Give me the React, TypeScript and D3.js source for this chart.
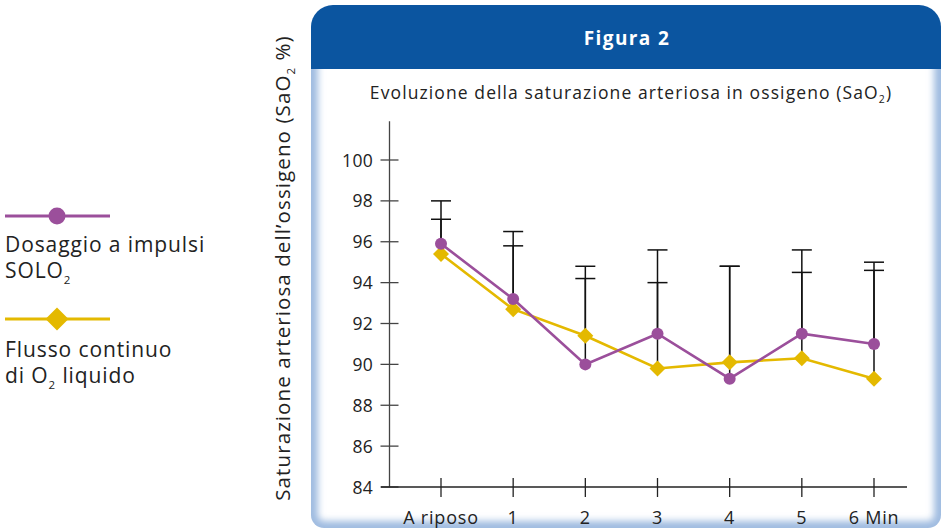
import React from "react";
import * as d3 from "d3";

// Time points of the test
const categories = ["A riposo", "1", "2", "3", "4", "5", "6 Min"];
// Mean SaO2 (%) per series
const soloValues = [95.9, 93.2, 90.0, 91.5, 89.3, 91.5, 91.0];
const liquidValues = [95.4, 92.7, 91.4, 89.8, 90.1, 90.3, 89.3];
// Upper end of the error bar (mean + SD) per series
const soloUpper = [98.0, 96.5, 94.8, 95.6, 94.8, 95.6, 95.0];
const liquidUpper = [97.1, 95.8, 94.2, 94.0, 94.8, 94.5, 94.6];
// Y axis ticks
const yTicks = [84, 86, 88, 90, 92, 94, 96, 98, 100];

const FONT = "'Open Sans', 'DejaVu Sans', sans-serif";
const PURPLE = "#9b4f9b";
const YELLOW = "#e4b900";
const BLUE = "#0b55a0";
const INK = "#222";

function diamond(cx: number, cy: number, r: number) {
  return `M${cx},${cy - r}L${cx + r},${cy}L${cx},${cy + r}L${cx - r},${cy}Z`;
}

export default function App() {
  const W = 944;
  const H = 531;

  // panel geometry
  const pl = 311, pr = 941, pt = 5, pb = 528, hb = 69, rt = 22, rb = 13;
  const headerPath = `M${pl},${hb}L${pl},${pt + rt}A${rt},${rt} 0 0 1 ${pl + rt},${pt}L${pr - rt},${pt}A${rt},${rt} 0 0 1 ${pr},${pt + rt}L${pr},${hb}Z`;
  const bodyPath = `M${pl},${hb}L${pl},${pb - rb}A${rb},${rb} 0 0 0 ${pl + rb},${pb}L${pr - rb},${pb}A${rb},${rb} 0 0 0 ${pr},${pb - rb}L${pr},${hb}Z`;
  const glowPath = `M${pl},${hb - 10}L${pl},${pb - rb}A${rb},${rb} 0 0 0 ${pl + rb},${pb}L${pr - rb},${pb}A${rb},${rb} 0 0 0 ${pr},${pb - rb}L${pr},${hb - 10}`;

  const x = d3.scalePoint<string>().domain(categories).range([441, 874]);
  const y = d3.scaleLinear().domain([84, 100]).range([487, 160]);
  const axisX = 389.5;
  const axisY = y(84);

  const lineGen = d3
    .line<number>()
    .x((_, i) => x(categories[i]) as number)
    .y((d) => y(d));

  const capHalf = 10;

  return (
    <div style={{ position: "absolute", left: 0, top: 0 }}>
      <svg width={W} height={H} viewBox={`0 0 ${W} ${H}`} style={{ display: "block", fontFamily: FONT }}>
        <defs>
          <clipPath id="bodyClip">
            <path d={bodyPath} />
          </clipPath>
          <filter id="soft" x="-10%" y="-10%" width="120%" height="120%">
            <feGaussianBlur stdDeviation="3.5" />
          </filter>
        </defs>
        <rect x={0} y={0} width={W} height={H} fill="#ffffff" />

        {/* panel */}
        <path d={bodyPath} fill="#ffffff" />
        <g clipPath="url(#bodyClip)">
          <path d={glowPath} fill="none" stroke="#9fbbe0" strokeWidth={14} filter="url(#soft)" />
        </g>
        <path d={headerPath} fill={BLUE} />
        <text x={627} y={45} textAnchor="middle" fill="#ffffff" fontSize={19} fontWeight={700} letterSpacing={1.4}>
          Figura 2
        </text>
        <text x={631} y={98.5} textAnchor="middle" fill={INK} fontSize={17.5} letterSpacing={1.1}>
          Evoluzione della saturazione arteriosa in ossigeno (SaO
          <tspan fontSize={10.5} dy={4}>2</tspan>
          <tspan dy={-4}>)</tspan>
        </text>

        {/* y axis */}
        <line x1={axisX} x2={axisX} y1={y(101.9)} y2={axisY} stroke="#444" strokeWidth={1.3} />
        {yTicks.map((t) => (
          <g key={t}>
            <line x1={axisX - 9} x2={axisX + 9} y1={y(t)} y2={y(t)} stroke="#444" strokeWidth={1.3} />
            <text x={373} y={y(t) + 6.5} textAnchor="end" fontSize={17.5} fill={INK} letterSpacing={0.3}>
              {t}
            </text>
          </g>
        ))}

        {/* x axis */}
        <line x1={381} x2={907} y1={axisY} y2={axisY} stroke="#222" strokeWidth={1.5} />
        {categories.map((c) => (
          <g key={c}>
            <line x1={x(c)} x2={x(c)} y1={axisY - 9} y2={axisY + 10} stroke="#222" strokeWidth={1.3} />
            <text x={x(c)} y={axisY + 36.5} textAnchor="middle" fontSize={18} fill={INK} letterSpacing={0.8}>
              {c}
            </text>
          </g>
        ))}

        {/* error bars */}
        {categories.map((c, i) => {
          const cx = x(c) as number;
          const bars = [
            [soloValues[i], soloUpper[i]],
            [liquidValues[i], liquidUpper[i]],
          ];
          return (
            <g key={c} stroke="#111" strokeWidth={1.5}>
              {bars.map(([m, u], j) => (
                <g key={j}>
                  <line x1={cx} x2={cx} y1={y(m)} y2={y(u)} />
                  <line x1={cx - capHalf} x2={cx + capHalf} y1={y(u)} y2={y(u)} />
                </g>
              ))}
            </g>
          );
        })}

        {/* series lines */}
        <path d={lineGen(liquidValues) || ""} fill="none" stroke={YELLOW} strokeWidth={2.6} />
        <path d={lineGen(soloValues) || ""} fill="none" stroke={PURPLE} strokeWidth={2.6} />
        {liquidValues.map((v, i) => (
          <path key={i} d={diamond(x(categories[i]) as number, y(v), 8)} fill={YELLOW} />
        ))}
        {soloValues.map((v, i) => (
          <circle key={i} cx={x(categories[i])} cy={y(v)} r={6} fill={PURPLE} />
        ))}

        {/* y axis title */}
        <text
          transform={`translate(290,${268}) rotate(-90)`}
          textAnchor="middle"
          fontSize={20.5}
          fill={INK}
          letterSpacing={1.1}
        >
          Saturazione arteriosa dell’ossigeno (SaO
          <tspan fontSize={11.5} dy={5}>2</tspan>
          <tspan dy={-5}> %)</tspan>
        </text>

        {/* legend */}
        <line x1={5} x2={110} y1={216} y2={216} stroke={PURPLE} strokeWidth={3} />
        <circle cx={57} cy={216} r={8.5} fill={PURPLE} />
        <g fontSize={21} fill={INK} letterSpacing={0.9}>
          <text x={5} y={252}>Dosaggio a impulsi</text>
          <text x={5} y={278}>
            SOLO
            <tspan fontSize={11.5} dy={6}>2</tspan>
          </text>
          <text x={5} y={357}>Flusso continuo</text>
          <text x={5} y={383}>
            di O
            <tspan fontSize={11.5} dy={6}>2</tspan>
            <tspan dy={-6}> liquido</tspan>
          </text>
        </g>
        <line x1={5} x2={110} y1={319} y2={319} stroke={YELLOW} strokeWidth={3} />
        <path d={diamond(57, 319, 11.5)} fill={YELLOW} />
      </svg>
    </div>
  );
}
